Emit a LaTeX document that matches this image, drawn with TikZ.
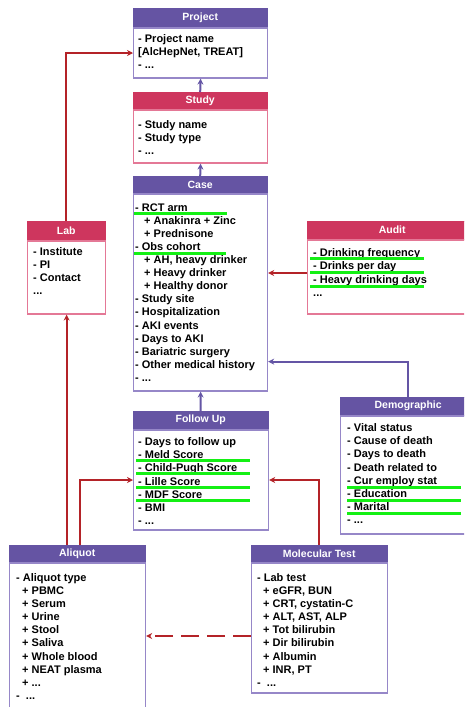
\documentclass[tikz,border=0pt]{standalone}
\usepackage{fontspec}
\setmainfont{Liberation Sans}
\usetikzlibrary{arrows.meta}

\definecolor{headpurple}{RGB}{101,84,163}
\definecolor{headred}{RGB}{206,54,94}
\definecolor{edgepurple}{RGB}{150,135,200}
\definecolor{edgered}{RGB}{228,120,150}
\definecolor{linkred}{RGB}{180,35,40}
\definecolor{linkpurple}{RGB}{100,85,165}
\definecolor{markgreen}{RGB}{20,240,20}

\tikzset{
	head/.style={draw=#1, fill=#1, text=white, anchor=north west, inner sep=0pt,
		minimum height=18pt, font=\fontsize{10.5}{12}\selectfont\bfseries},
	body/.style={draw=#1, fill=white, anchor=north west, inner sep=0pt, line width=1.2pt},
	fields/.style={anchor=north west, inner sep=0pt, align=left,
		font=\fontsize{11}{13.1}\selectfont\bfseries, execute at begin node=\strut},
	marker/.style={draw=markgreen, line width=3pt},
	redlink/.style={draw=linkred, line width=2pt, -{Stealth[length=6pt,width=6pt]}},
	purplelink/.style={draw=linkpurple, line width=2pt, -{Stealth[length=6pt,width=6pt]}},
}

\begin{document}
\begin{tikzpicture}[x=1pt, y=-1pt]
	
	\useasboundingbox (0,0) rectangle (464,707);
	\clip (0,0) rectangle (464,707);
	
	% Project and Study
	\node[head=headpurple, minimum width=134pt, minimum height=19pt] (project) at (133,8) {Project};
	\node[body=edgepurple, minimum width=134pt, minimum height=50pt] (project body) at (project.south west) {};
	\node[fields] (project fields) at (138,34.3) {- Project name\\{[AlcHepNet, TREAT]}\\- ...};
	
	\node[head=headred, minimum width=134pt, minimum height=17pt] (study) at (133,92) {Study};
	\node[body=edgered, minimum width=134pt, minimum height=53pt] (study body) at (study.south west) {};
	\node[fields] (study fields) at (138,120.3) {- Study name\\- Study type\\- ...};
	
	% Case
	\node[head=headpurple, minimum width=134pt, minimum height=17pt] (case) at (133,176) {Case};
	\node[body=edgepurple, minimum width=134pt, minimum height=197pt] (case body) at (case.south west) {};
	\node[fields] (case fields) at (135,203.3) {- RCT arm\\
		\hspace*{9pt}+ Anakinra + Zinc\\
		\hspace*{9pt}+ Prednisone\\
		- Obs cohort\\
		\hspace*{9pt}+ AH, heavy drinker\\
		\hspace*{9pt}+ Heavy drinker\\
		\hspace*{9pt}+ Healthy donor\\
		- Study site\\
		- Hospitalization\\
		- AKI events\\
		- Days to AKI\\
		- Bariatric surgery\\
		- Other medical history\\
		- ...};
	
	% Lab and Audit
	\node[head=headred, minimum width=78pt, minimum height=19pt] (lab) at (27,221) {Lab};
	\node[body=edgered, minimum width=78pt, minimum height=73pt] (lab body) at (lab.south west) {};
	\node[fields, font=\fontsize{11}{12.8}\selectfont\bfseries] (lab fields) at (33,247.5) {- Institute\\- PI\\- Contact\\...};
	
	\node[head=headred, minimum width=170pt] (audit) at (307,221) {Audit};
	\node[body=edgered, minimum width=170pt, minimum height=74pt] (audit body) at (audit.south west) {};
	\node[fields, font=\fontsize{11}{13.5}\selectfont\bfseries] (audit fields) at (313,248) {- Drinking frequency\\- Drinks per day\\- Heavy drinking days\\...};
	
	% Follow Up and Demographic
	\node[head=headpurple, minimum width=135pt] (follow) at (133,411) {Follow Up};
	\node[body=edgepurple, minimum width=135pt, minimum height=100pt] (follow body) at (follow.south west) {};
	\node[fields, font=\fontsize{11}{13.2}\selectfont\bfseries] (follow fields) at (138,437.3) {- Days to follow up\\- Meld Score\\- Child-Pugh Score\\- Lille Score\\- MDF Score\\- BMI\\- ...};
	
	\node[head=headpurple, minimum width=136pt] (demographic) at (340,397) {Demographic};
	\node[body=edgepurple, minimum width=136pt, minimum height=118pt] (demographic body) at (demographic.south west) {};
	\node[fields, font=\fontsize{11}{13.2}\selectfont\bfseries] (demographic fields) at (347,423.3) {- Vital status\\- Cause of death\\- Days to death\\- Death related to\\- Cur employ stat\\- Education\\- Marital\\- ...};
	
	% Aliquot and Molecular Test
	\node[head=headpurple, minimum width=136pt, minimum height=17pt] (aliquot) at (9,545) {Aliquot};
	\node[body=edgepurple, minimum width=136pt, minimum height=170pt] (aliquot body) at (aliquot.south west) {};
	\node[fields] (aliquot fields) at (16,573.3) {- Aliquot type\\
		\hspace*{6pt}+ PBMC\\
		\hspace*{6pt}+ Serum\\
		\hspace*{6pt}+ Urine\\
		\hspace*{6pt}+ Stool\\
		\hspace*{6pt}+ Saliva\\
		\hspace*{6pt}+ Whole blood\\
		\hspace*{6pt}+ NEAT plasma\\
		\hspace*{6pt}+ ...\\
		-\ \ ...};
	
	\node[head=headpurple, minimum width=136pt, minimum height=17pt] (molecular) at (251,545) {Molecular Test};
	\node[body=edgepurple, minimum width=136pt, minimum height=130pt] (molecular body) at (molecular.south west) {};
	\node[fields] (molecular fields) at (257,573.3) {- Lab test\\
		\hspace*{6pt}+ eGFR, BUN\\
		\hspace*{6pt}+ CRT, cystatin-C\\
		\hspace*{6pt}+ ALT, AST, ALP\\
		\hspace*{6pt}+ Tot bilirubin\\
		\hspace*{6pt}+ Dir bilirubin\\
		\hspace*{6pt}+ Albumin\\
		\hspace*{6pt}+ INR, PT\\
		-\ \ ...};
	
	% Highlighted fields
	\draw[marker] (134,213.5) -- (227,213.5);
	\draw[marker] (134,253) -- (226,253);
	\draw[marker] (310,258.5) -- (424,258.5);
	\draw[marker] (310,272) -- (424,272);
	\draw[marker] (310,286) -- (424,286);
	\draw[marker] (136,460.5) -- (250,460.5);
	\draw[marker] (136,473.7) -- (250,473.7);
	\draw[marker] (136,487) -- (250,487);
	\draw[marker] (136,500.2) -- (250,500.2);
	\draw[marker] (347,487) -- (461,487);
	\draw[marker] (347,500.2) -- (461,500.2);
	\draw[marker] (347,513.4) -- (461,513.4);
	
	% Purple links
	\draw[purplelink] (study.north) -- (project body.south);
	\draw[purplelink] (case.north) -- (study body.south);
	\draw[purplelink] (follow.north) -- (case body.south);
	\draw[purplelink] (demographic.north) |- ([yshift=30pt]case body.south east);
	
	% Red links
	\draw[redlink] (lab.north) |- (project body.west);
	\draw[redlink] ([yshift=4pt]audit body.west) -- ([yshift=4pt]audit body.west -| case body.east);
	\draw[redlink] (aliquot.north -| lab body.south) -- (lab body.south);
	\draw[redlink] ([xshift=13pt]aliquot.north -| lab body.south) |- (follow body.west);
	\draw[redlink] (molecular.north) |- (follow body.east);
	\draw[redlink, dash pattern=on 18pt off 8pt] ([yshift=-8pt]molecular body.west) -- ([yshift=-8pt]molecular body.west -| aliquot body.east);
	
\end{tikzpicture}
\end{document}
